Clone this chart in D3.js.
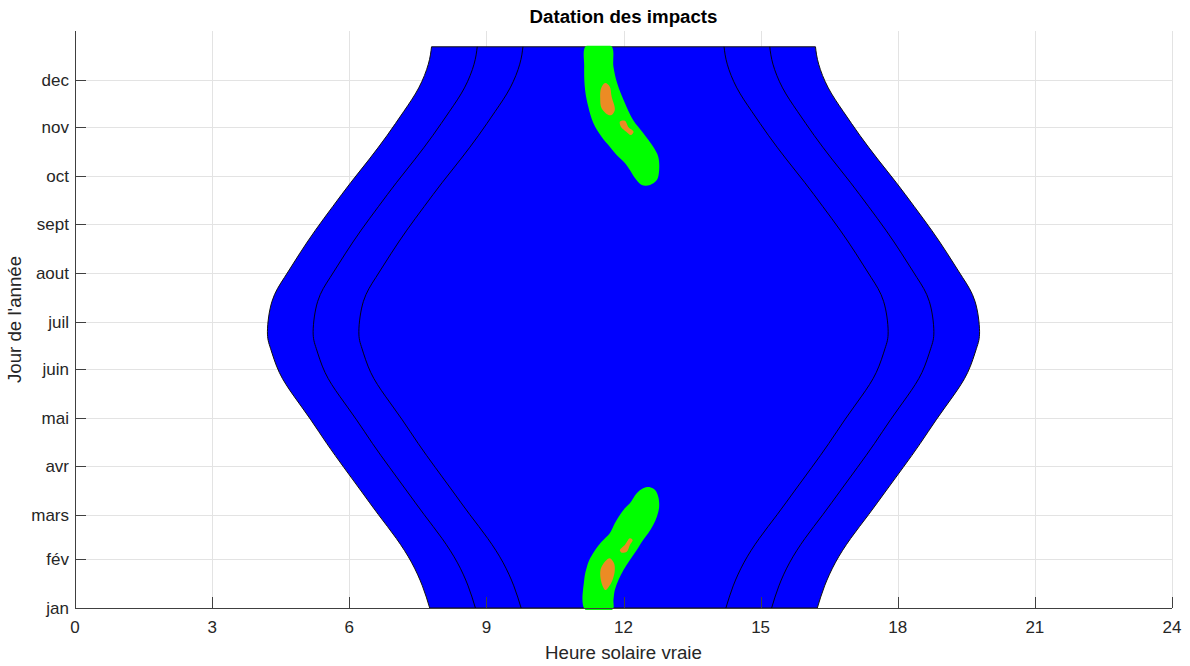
<!DOCTYPE html>
<html><head><meta charset="utf-8">
<script src="https://cdn.jsdelivr.net/npm/d3@7"></script>
<style>
body{margin:0;background:#fff;}
text{font-family:"Liberation Sans", Arial, Helvetica, sans-serif;fill:#262626;}
</style>
</head><body>
<svg id="c" width="1190" height="666"></svg>
<script>
// ---- data ----
const monthLabels = ["jan","fév","mars","avr","mai","juin","juil","aout","sept","oct","nov","dec"];
const monthDays   = [1, 32, 60, 91, 121, 152, 182, 213, 244, 274, 305, 335];
const hourTicks   = [0, 3, 6, 9, 12, 15, 18, 21, 24];

// day of year samples for the daylight envelope
const days     = [1, 15, 30, 45, 60, 75, 90, 105, 120, 135, 150, 165, 176, 195, 210, 225, 240, 255, 270, 285, 300, 315, 330, 345, 356];
const sunrise  = [7.76, 7.60, 7.36, 7.03, 6.64, 6.26, 5.88, 5.51, 5.16, 4.79, 4.47, 4.28, 4.21, 4.31, 4.58, 4.91, 5.26, 5.64, 6.03, 6.44, 6.83, 7.19, 7.52, 7.73, 7.80];
const sunset   = [16.24, 16.40, 16.64, 16.97, 17.36, 17.74, 18.12, 18.49, 18.84, 19.21, 19.53, 19.72, 19.79, 19.69, 19.42, 19.09, 18.74, 18.36, 17.97, 17.56, 17.17, 16.81, 16.48, 16.27, 16.20];
const morning1 = [8.76, 8.60, 8.36, 8.03, 7.64, 7.26, 6.88, 6.51, 6.16, 5.79, 5.47, 5.28, 5.21, 5.31, 5.58, 5.91, 6.26, 6.64, 7.03, 7.44, 7.83, 8.19, 8.52, 8.73, 8.80];
const morning2 = [9.76, 9.60, 9.36, 9.03, 8.64, 8.26, 7.88, 7.51, 7.16, 6.79, 6.47, 6.28, 6.21, 6.31, 6.58, 6.91, 7.26, 7.64, 8.03, 8.44, 8.83, 9.19, 9.52, 9.73, 9.80];
const evening1 = [15.24, 15.40, 15.64, 15.97, 16.36, 16.74, 17.12, 17.49, 17.84, 18.21, 18.53, 18.72, 18.79, 18.69, 18.42, 18.09, 17.74, 17.36, 16.97, 16.56, 16.17, 15.81, 15.48, 15.27, 15.20];
const evening2 = [14.24, 14.40, 14.64, 14.97, 15.36, 15.74, 16.12, 16.49, 16.84, 17.21, 17.53, 17.72, 17.79, 17.69, 17.42, 17.09, 16.74, 16.36, 15.97, 15.56, 15.17, 14.81, 14.48, 14.27, 14.20];

// impact zones: [hour, day] outlines
const greenLow = [[11.16,0],[11.14,18.7],[11.20,27.1],[11.27,32.4],[11.38,37.7],[11.52,42.9],[11.70,48.3],[11.81,54.6],[11.92,59.8],[12.03,64.1],[12.14,67.2],[12.29,73.6],[12.43,76.7],[12.58,77.4],[12.69,75.6],[12.76,71.4],[12.78,65.1],[12.73,58.8],[12.65,53.5],[12.54,48.3],[12.43,44.0],[12.29,37.7],[12.14,31.4],[12.00,25.0],[11.89,18.7],[11.81,12.4],[11.78,6.1],[11.76,0]];
const orangeLowA = [[11.70,32.4],[11.79,29.5],[11.81,25.0],[11.76,18.7],[11.66,13.7],[11.60,12.4],[11.52,16.8],[11.49,23.1],[11.52,27.1],[11.63,31.4]];
const orangeLowB = [[11.92,37.7],[12.03,40.9],[12.14,45.1],[12.20,44.0],[12.14,40.9],[12.07,36.6],[11.96,36.0]];
const greenHigh = [[11.18,356.6],[11.73,356.6],[11.78,343.4],[11.86,333.1],[12.03,320.5],[12.21,309.7],[12.43,301.5],[12.65,292.8],[12.76,286.5],[12.78,278.1],[12.73,271.7],[12.58,268.6],[12.40,268.6],[12.25,273.0],[12.14,278.1],[12.03,282.5],[11.85,287.6],[11.70,292.8],[11.52,299.1],[11.34,307.8],[11.23,318.1],[11.16,328.7],[11.14,343.4]];
const orangeHighA = [[11.60,333.1],[11.70,330.8],[11.74,324.5],[11.81,316.0],[11.74,312.9],[11.67,312.9],[11.52,317.1],[11.49,323.4],[11.51,329.8]];
const orangeHighB = [[11.92,308.6],[12.03,309.2],[12.11,305.1],[12.22,302.3],[12.16,300.2],[12.06,302.3],[11.95,305.1]];

// ---- layout ----
const svg = d3.select("#c");
const L = 75, R = 1172, T = 31, B = 608;
const x = d3.scaleLinear().domain([0, 24]).range([L, R]);
const y = d3.scaleLinear().domain([1, 366]).range([B, T]);

// grid
const grid = svg.append("g").attr("stroke", "#e3e3e3").attr("stroke-width", 1);
hourTicks.forEach(h => { if (h > 0) grid.append("line").attr("x1", Math.round(x(h))+0.5).attr("x2", Math.round(x(h))+0.5).attr("y1", T).attr("y2", B); });
monthDays.forEach(d => { if (d > 1) grid.append("line").attr("x1", L).attr("x2", R).attr("y1", Math.round(y(d))+0.5).attr("y2", Math.round(y(d))+0.5); });

// envelope
const env = days.map((d, i) => ({d, a: sunrise[i], b: sunset[i]}));
const area = d3.area().y(p => y(p.d)).x0(p => x(p.a)).x1(p => x(p.b)).curve(d3.curveNatural);
svg.append("path").attr("d", area(env)).attr("fill", "#0000ff").attr("stroke", "#111").attr("stroke-width", 1);

const vline = d3.line().x(p => x(p[0])).y(p => y(p[1])).curve(d3.curveNatural);
[morning1, morning2, evening1, evening2].forEach(arr => {
  svg.append("path").attr("d", vline(arr.map((h, i) => [h, days[i]])))
    .attr("fill", "none").attr("stroke", "#000").attr("stroke-width", 0.9);
});

// blobs
svg.append("clipPath").attr("id", "clipBlob").append("rect")
  .attr("x", L).attr("width", R - L).attr("y", y(356.6)).attr("height", y(-0.2) - y(356.6));
const blobLine = d3.line().x(p => x(p[0])).y(p => y(p[1])).curve(d3.curveCatmullRomClosed.alpha(0.5));
const gb = svg.append("g").attr("clip-path", "url(#clipBlob)");
[greenLow, greenHigh].forEach(b => gb.append("path").attr("d", blobLine(b)).attr("fill", "#00ff00"));
[orangeLowA, orangeLowB, orangeHighA, orangeHighB].forEach(b => gb.append("path").attr("d", blobLine(b)).attr("fill", "#ec8b24"));

// axes
const ax = svg.append("g").attr("stroke", "#404040").attr("stroke-width", 1).attr("fill", "none");
ax.append("line").attr("x1", L).attr("x2", R).attr("y1", B + 0.5).attr("y2", B + 0.5);
ax.append("line").attr("x1", L + 0.5).attr("x2", L + 0.5).attr("y1", T).attr("y2", B);
hourTicks.forEach(h => ax.append("line").attr("x1", Math.round(x(h))+0.5).attr("x2", Math.round(x(h))+0.5).attr("y1", B).attr("y2", B - 11));
monthDays.forEach(d => ax.append("line").attr("x1", L).attr("x2", L + 11).attr("y1", Math.round(y(d))+0.5).attr("y2", Math.round(y(d))+0.5));

svg.append("g").selectAll("text").data(hourTicks).join("text")
  .attr("x", h => x(h)).attr("y", 633).attr("text-anchor", "middle")
  .attr("font-size", 17).text(h => h);
svg.append("g").selectAll("text").data(monthLabels).join("text")
  .attr("x", 69).attr("y", (m, i) => y(monthDays[i])).attr("dy", "0.35em").attr("text-anchor", "end")
  .attr("font-size", 17).text(m => m);

svg.append("text").attr("x", (L + R) / 2).attr("y", 659).attr("text-anchor", "middle")
  .attr("font-size", 18.7).text("Heure solaire vraie");
svg.append("text").attr("transform", `translate(21,${(T + B) / 2}) rotate(-90)`).attr("text-anchor", "middle")
  .attr("font-size", 18.7).text("Jour de l'année");
svg.append("text").attr("x", (L + R) / 2).attr("y", 23).attr("text-anchor", "middle")
  .attr("font-size", 18.7).attr("font-weight", "bold").style("fill", "#000").text("Datation des impacts");
</script>
</body></html>
